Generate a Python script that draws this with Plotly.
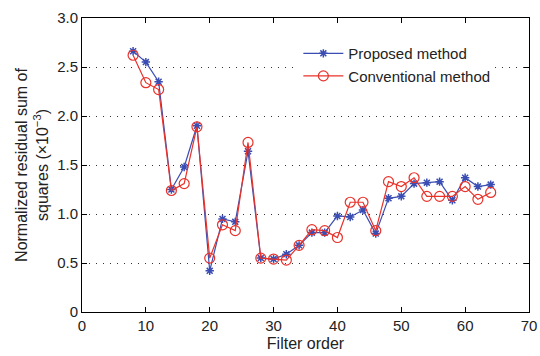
import plotly.graph_objects as go

filter_order = list(range(8, 65, 2))
proposed = [2.66, 2.55, 2.35, 1.25, 1.48, 1.90, 0.42, 0.95, 0.92, 1.64,
            0.55, 0.54, 0.59, 0.68, 0.81, 0.81, 0.98, 0.97, 1.04, 0.80,
            1.16, 1.18, 1.31, 1.32, 1.33, 1.14, 1.37, 1.28, 1.30]
conventional = [2.62, 2.34, 2.27, 1.24, 1.31, 1.89, 0.55, 0.89, 0.83, 1.73,
                0.55, 0.54, 0.53, 0.68, 0.84, 0.83, 0.76, 1.12, 1.12, 0.83,
                1.33, 1.28, 1.37, 1.18, 1.18, 1.18, 1.28, 1.15, 1.22]

y_ticks = [0, 0.5, 1.0, 1.5, 2.0, 2.5, 3.0]
y_ticktext = ["0", "0.5", "1.0", "1.5", "2.0", "2.5", "3.0"]
x_ticks = [0, 10, 20, 30, 40, 50, 60, 70]

blue = "#3a4db3"
red = "#e8322a"

fig = go.Figure()
fig.add_trace(go.Scatter(
    x=filter_order, y=proposed, mode="lines+markers", name="Proposed method",
    line=dict(color=blue, width=1.2),
    marker=dict(symbol="asterisk-open", size=7, color=blue,
                line=dict(color=blue, width=1.5))))
fig.add_trace(go.Scatter(
    x=filter_order, y=conventional, mode="lines+markers", name="Conventional method",
    line=dict(color=red, width=1.2),
    marker=dict(symbol="circle-open", size=10, color=red,
                line=dict(color=red, width=1.2))))

fnt = "Liberation Sans, Arial, sans-serif"
fig.update_layout(
    width=540, height=356,
    margin=dict(l=82, r=11, t=18, b=44),
    paper_bgcolor="white", plot_bgcolor="white",
    font=dict(family=fnt, size=15, color="#222"),
    showlegend=True,
    legend=dict(x=0.484, y=0.935, xanchor="left", yanchor="top",
                bgcolor="rgba(255,255,255,1)", borderwidth=0,
                font=dict(family=fnt, size=15, color="#222"),
                tracegroupgap=0, itemwidth=40),
    xaxis=dict(range=[0, 70], tickvals=x_ticks, showgrid=False, zeroline=False,
               automargin=False,
               showline=True, linecolor="black", linewidth=1, mirror="ticks",
               ticks="inside", ticklen=5, tickcolor="black",
               title=dict(text="Filter order", font=dict(size=16), standoff=4)),
    yaxis=dict(range=[0, 3.0], tickvals=y_ticks, ticktext=y_ticktext,
               automargin=False,
               showgrid=True, gridcolor="#333", griddash="1px,6px", gridwidth=1.2,
               zeroline=False,
               showline=True, linecolor="black", linewidth=1, mirror="ticks",
               ticks="inside", ticklen=5, tickcolor="black",
               title=dict(text="Normalized residual sum of<br>squares (×10<sup>−3</sup>)",
                          font=dict(size=16), standoff=4)),
)

fig.write_html("out.html")
